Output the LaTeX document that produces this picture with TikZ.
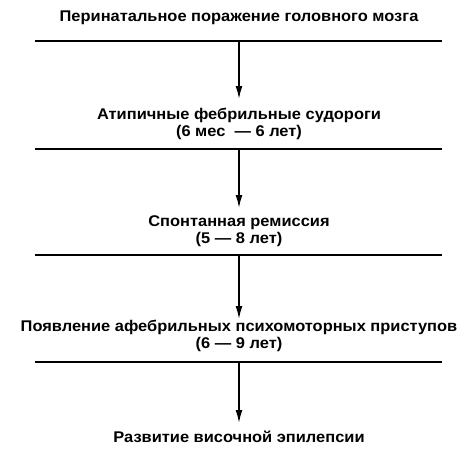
\documentclass[tikz,border=0pt]{standalone}
\usepackage{fontspec}
\setmainfont{Liberation Sans}
\newfontfamily\lblfont[FakeStretch=1.06]{Liberation Sans}
\usetikzlibrary{arrows.meta}
\begin{document}
\begin{tikzpicture}[x=1pt,y=-1pt,
  lbl/.style={font=\lblfont\bfseries\fontsize{15.5}{17.5}\selectfont, align=center, inner sep=0pt},
  rule/.style={line width=1.8pt},
  conn/.style={line width=1.6pt, -{Latex[length=13pt,width=7pt]}}]
\useasboundingbox (0,0) rectangle (474,453);
\node[lbl] (t1) at (239,18) {Перинатальное поражение головного мозга};
\node[lbl] (t2) at (239,124) {Атипичные фебрильные судороги\\(6 мес \ — 6 лет)};
\node[lbl] (t3) at (239,231) {Спонтанная ремиссия\\(5 — 8 лет)};
\node[lbl] (t4) at (239,336) {Появление афебрильных психомоторных приступов\\(6 — 9 лет)};
\node[lbl] (t5) at (239,437) {Развитие височной эпилепсии};
\foreach \i/\y in {1/41,2/149,3/255,4/362}{
  \coordinate (l\i a) at (35,\y);
  \coordinate (l\i b) at (442,\y);
  \coordinate (l\i m) at (239,\y);
  \draw[rule] (l\i a) -- (l\i b);
}
\draw[conn] (l1m) -- (t2.north |- 0,99);
\draw[conn] (l2m) -- (t3.north |- 0,208);
\draw[conn] (l3m) -- (t4.north |- 0,319);
\draw[conn] (l4m) -- (t5.north |- 0,423);
\end{tikzpicture}
\end{document}
